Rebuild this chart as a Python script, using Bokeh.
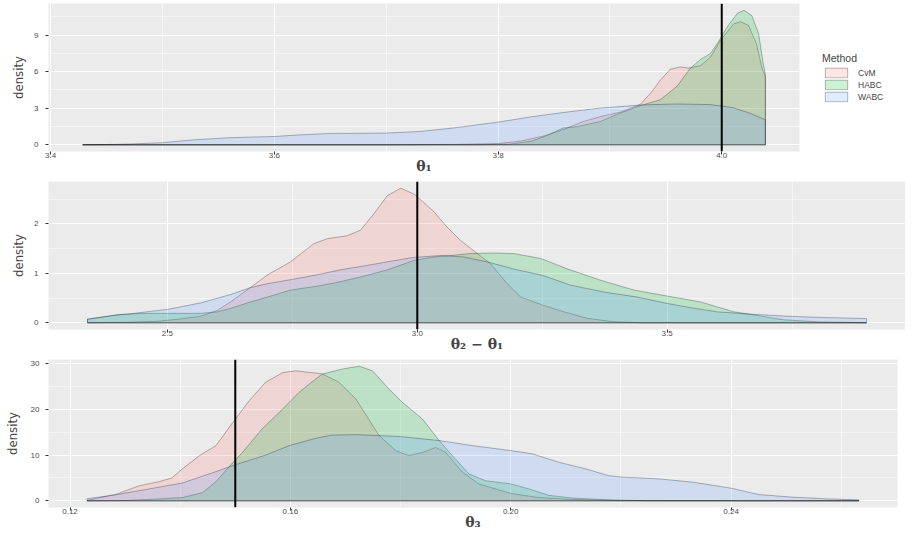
from bokeh.plotting import figure
from bokeh.models import Range1d, FixedTicker, NumeralTickFormatter, Span, Legend, LegendItem
from bokeh.layouts import column
from bokeh.embed import file_html
from bokeh.resources import INLINE

methods = ["CvM", "HABC", "WABC"]
colors = ["#F8766D", "#00BA38", "#619CFF"]

# ---- panel 1: theta_1 ----
t1_cvm_x = [3.4286, 3.70, 3.76, 3.80, 3.82, 3.84, 3.86, 3.876, 3.891, 3.91, 3.927, 3.937, 3.945,
            3.954, 3.963, 3.970, 3.981, 3.990, 3.999, 4.011, 4.017, 4.024, 4.031, 4.036, 4.039]
t1_cvm_y = [0.0, 0.0, 0.03, 0.1, 0.3, 0.7, 1.3, 1.9, 2.3, 2.7, 3.3, 4.3, 5.3,
            6.2, 6.4, 6.3, 6.5, 7.2, 8.6, 9.95, 10.1, 9.8, 8.3, 6.3, 5.6]
t1_habc_x = [3.4286, 3.78, 3.81, 3.83, 3.845, 3.858, 3.871, 3.891, 3.909, 3.927, 3.945, 3.960,
             3.972, 3.981, 3.990, 3.997, 4.005, 4.014, 4.020, 4.027, 4.033, 4.037, 4.039]
t1_habc_y = [0.0, 0.0, 0.05, 0.3, 0.8, 1.37, 1.5, 1.9, 2.6, 3.2, 3.7, 4.8,
             6.3, 7.0, 7.5, 8.45, 9.7, 10.8, 11.05, 10.6, 9.1, 6.7, 5.8]
t1_wabc_x = [3.4286, 3.45, 3.47, 3.50, 3.53, 3.56, 3.60, 3.62, 3.65, 3.70, 3.73, 3.76, 3.80,
             3.83, 3.86, 3.89, 3.93, 3.96, 3.99, 4.01, 4.025, 4.039]
t1_wabc_y = [0.0, 0.02, 0.06, 0.17, 0.42, 0.58, 0.68, 0.80, 0.93, 0.96, 1.09, 1.38, 1.86,
             2.3, 2.67, 3.0, 3.28, 3.35, 3.3, 3.05, 2.6, 2.05]
t1_xticks = [3.4, 3.6, 3.8, 4.0]
t1_xminor = [3.5, 3.7, 3.9]
t1_yticks = [0, 3, 6, 9]
t1_yminor = [1.5, 4.5, 7.5, 10.5]
t1_true = 4.0

# ---- panel 2: theta_2 - theta_1 ----
t2_cvm_x = [2.340, 2.42, 2.48, 2.52, 2.566, 2.60, 2.626, 2.666, 2.699, 2.746, 2.793, 2.82, 2.86,
            2.886, 2.913, 2.94, 2.967, 2.994, 3.033, 3.06, 3.087, 3.12, 3.147, 3.18, 3.207,
            3.25, 3.294, 3.34, 3.393, 3.45, 3.899]
t2_cvm_y = [0.0, 0.01, 0.03, 0.07, 0.13, 0.25, 0.42, 0.71, 0.96, 1.23, 1.60, 1.70, 1.76,
            1.87, 2.20, 2.57, 2.72, 2.60, 2.25, 1.93, 1.66, 1.40, 1.19, 0.79, 0.52,
            0.36, 0.22, 0.09, 0.02, 0.0, 0.0]
t2_habc_x = [2.340, 2.40, 2.45, 2.50, 2.566, 2.60, 2.626, 2.666, 2.70, 2.746, 2.80, 2.846, 2.90,
             2.94, 2.993, 3.033, 3.067, 3.107, 3.15, 3.193, 3.247, 3.30, 3.367, 3.434, 3.5,
             3.567, 3.634, 3.667, 3.734, 3.80, 3.899]
t2_habc_y = [0.07, 0.16, 0.19, 0.19, 0.19, 0.22, 0.29, 0.42, 0.52, 0.66, 0.74, 0.83, 0.96,
             1.07, 1.26, 1.33, 1.36, 1.40, 1.41, 1.40, 1.30, 1.09, 0.86, 0.66, 0.54,
             0.42, 0.22, 0.17, 0.06, 0.02, 0.0]
t2_wabc_x = [2.340, 2.40, 2.433, 2.50, 2.566, 2.626, 2.666, 2.70, 2.746, 2.80, 2.846, 2.90, 2.95,
             2.993, 3.047, 3.093, 3.14, 3.20, 3.25, 3.307, 3.374, 3.44, 3.5, 3.55, 3.60,
             3.667, 3.734, 3.80, 3.899]
t2_wabc_y = [0.075, 0.16, 0.19, 0.27, 0.40, 0.57, 0.71, 0.79, 0.87, 0.97, 1.07, 1.16, 1.25,
             1.32, 1.36, 1.33, 1.23, 1.07, 0.96, 0.76, 0.62, 0.52, 0.39, 0.30, 0.22,
             0.175, 0.135, 0.11, 0.085]
t2_xticks = [2.5, 3.0, 3.5]
t2_xminor = [2.75, 3.25, 3.75]
t2_yticks = [0, 1, 2]
t2_yminor = [0.5, 1.5, 2.5]
t2_true = 3.0

# ---- panel 3: theta_3 ----
t3_cvm_x = [0.1231, 0.1283, 0.1326, 0.1362, 0.1385, 0.1404, 0.1435, 0.1465, 0.1489, 0.1525,
            0.1555, 0.1586, 0.161, 0.1646, 0.1658, 0.1688, 0.1719, 0.1761, 0.1791, 0.1815,
            0.184, 0.1864, 0.1882, 0.1912, 0.1942, 0.20, 0.2051, 0.2111, 0.22, 0.2632]
t3_cvm_y = [0.1, 1.4, 3.3, 4.2, 5.0, 7.0, 9.9, 12.1, 16.1, 21.9,
            26.0, 28.1, 28.5, 28.0, 27.8, 26.0, 22.3, 14.3, 11.0, 9.9,
            10.6, 11.7, 10.6, 6.3, 3.7, 1.6, 0.7, 0.3, 0.05, 0.0]
t3_habc_x = [0.1231, 0.13, 0.1344, 0.1404, 0.1441, 0.1465, 0.1489, 0.1513, 0.1549, 0.1586,
             0.1616, 0.1646, 0.1658, 0.1695, 0.1725, 0.1749, 0.1779, 0.1803, 0.184, 0.187,
             0.1894, 0.1924, 0.1954, 0.20, 0.2033, 0.2069, 0.2111, 0.2178, 0.225, 0.2632]
t3_habc_y = [0.0, 0.05, 0.3, 0.7, 1.8, 4.2, 7.5, 10.6, 15.8, 20.1,
             23.8, 26.7, 27.8, 28.9, 29.5, 28.5, 24.5, 21.6, 17.9, 13.2,
             9.9, 5.9, 4.4, 3.7, 2.6, 1.2, 0.6, 0.2, 0.0, 0.0]
t3_wabc_x = [0.1231, 0.1283, 0.1344, 0.1404, 0.1465, 0.15, 0.1555, 0.1598, 0.1646, 0.1676,
             0.1719, 0.1797, 0.187, 0.193, 0.20, 0.2039, 0.2087, 0.2136, 0.2178, 0.22,
             0.2269, 0.2329, 0.24, 0.245, 0.251, 0.257, 0.2632]
t3_wabc_y = [0.44, 1.3, 2.6, 3.9, 6.4, 7.9, 10.0, 12.1, 13.7, 14.4,
             14.5, 14.1, 13.2, 12.1, 11.0, 10.3, 8.45, 7.0, 5.5, 5.2,
             4.8, 4.1, 2.76, 1.37, 0.8, 0.44, 0.2]
t3_xticks = [0.12, 0.16, 0.20, 0.24]
t3_xminor = [0.14, 0.18, 0.22, 0.26]
t3_yticks = [0, 10, 20, 30]
t3_yminor = [5, 15, 25]
t3_true = 0.15

BG = "#EBEBEB"
TICK_FONT = "Liberation Sans"
YLAB_FONT = "'DejaVu Sans Condensed', 'DejaVu Sans', sans-serif"


def padded(lo, hi):
    d = (hi - lo) * 0.05
    return lo - d, hi + d


def panel(series, xticks, xminor, yticks, yminor, xfmt, xlabel, truth,
          frame_w, left, right, top, bottom, ystandoff, ylabel_standoff):
    xs_all = [v for s in series for v in s[0]]
    ys_all = [v for s in series for v in s[1]]
    x0, x1 = padded(min(xs_all), max(xs_all))
    y0, y1 = padded(0.0, max(ys_all))
    p = figure(frame_width=frame_w, frame_height=148,
               x_range=Range1d(x0, x1), y_range=Range1d(y0, y1),
               output_backend="svg", toolbar_location=None,
               min_border_left=left, min_border_right=right,
               min_border_top=top, min_border_bottom=bottom)
    p.background_fill_color = BG
    p.border_fill_color = "white"
    p.outline_line_color = None

    p.xaxis.ticker = FixedTicker(ticks=xticks, minor_ticks=xminor)
    p.yaxis.ticker = FixedTicker(ticks=yticks, minor_ticks=yminor)
    p.xaxis.formatter = NumeralTickFormatter(format=xfmt)
    p.yaxis.formatter = NumeralTickFormatter(format="0")
    for ax in (p.xaxis, p.yaxis):
        ax.axis_line_color = None
        ax.major_tick_out = 3
        ax.major_tick_in = 0
        ax.major_tick_line_color = "#333333"
        ax.minor_tick_out = 0
        ax.minor_tick_in = 0
        ax.major_label_text_font = TICK_FONT
        ax.major_label_text_font_size = "8px"
        ax.major_label_text_color = "#4D4D4D"
    p.xaxis.major_label_standoff = -2
    p.yaxis.major_label_standoff = ystandoff
    p.xaxis.axis_label = xlabel
    p.xaxis.axis_label_text_font = "DejaVu Serif"
    p.xaxis.axis_label_text_font_style = "bold"
    p.xaxis.axis_label_text_font_size = "14px"
    p.xaxis.axis_label_standoff = -3
    p.yaxis.axis_label = "density"
    p.yaxis.axis_label_text_font = YLAB_FONT
    p.yaxis.axis_label_text_font_style = "normal"
    p.yaxis.axis_label_text_font_size = "13px"
    p.yaxis.axis_label_standoff = ylabel_standoff

    for g in (p.xgrid, p.ygrid):
        g.grid_line_color = "white"
        g.grid_line_width = 1.1
        g.minor_grid_line_color = "white"
        g.minor_grid_line_width = 0.5

    renderers = []
    for (xs, ys), col in zip(series, colors):
        px = [xs[0]] + list(xs) + [xs[-1]]
        py = [0.0] + list(ys) + [0.0]
        r = p.patch(px, py, fill_color=col, fill_alpha=0.2,
                    line_color="black", line_alpha=0.28, line_width=1)
        renderers.append(r)
    p.add_layout(Span(location=truth, dimension="height", line_color="black", line_width=2))
    return p, renderers


p1, r1 = panel([(t1_cvm_x, t1_cvm_y), (t1_habc_x, t1_habc_y), (t1_wabc_x, t1_wabc_y)],
               t1_xticks, t1_xminor, t1_yticks, t1_yminor, "0.0", "θ₁", t1_true,
               751, 48, 114, 3, 30, 7, 5)
p2, _ = panel([(t2_cvm_x, t2_cvm_y), (t2_habc_x, t2_habc_y), (t2_wabc_x, t2_wabc_y)],
              t2_xticks, t2_xminor, t2_yticks, t2_yminor, "0.0", "θ₂ − θ₁", t2_true,
              857, 48, 8, 0, 30, 7, 5)
p3, _ = panel([(t3_cvm_x, t3_cvm_y), (t3_habc_x, t3_habc_y), (t3_wabc_x, t3_wabc_y)],
              t3_xticks, t3_xminor, t3_yticks, t3_yminor, "0.00", "θ₃", t3_true,
              849, 56, 8, 0, 26, 6, 8)

legend = Legend(items=[LegendItem(label=m, renderers=[r]) for m, r in zip(methods, r1)],
                location="center_left", title="Method", orientation="vertical",
                glyph_width=28, glyph_height=12, label_height=12, spacing=0,
                padding=0, margin=23, label_standoff=8, title_standoff=3,
                label_text_font=TICK_FONT, label_text_font_size="8.5px",
                title_text_font=TICK_FONT, title_text_font_size="10.5px",
                title_text_font_style="normal",
                background_fill_alpha=0, border_line_color=None)
p1.add_layout(legend, "right")

layout = column(p1, p2, p3, spacing=0, margin=(0, 0, 0, -8))
open("out.html", "w").write(file_html(layout, INLINE))
